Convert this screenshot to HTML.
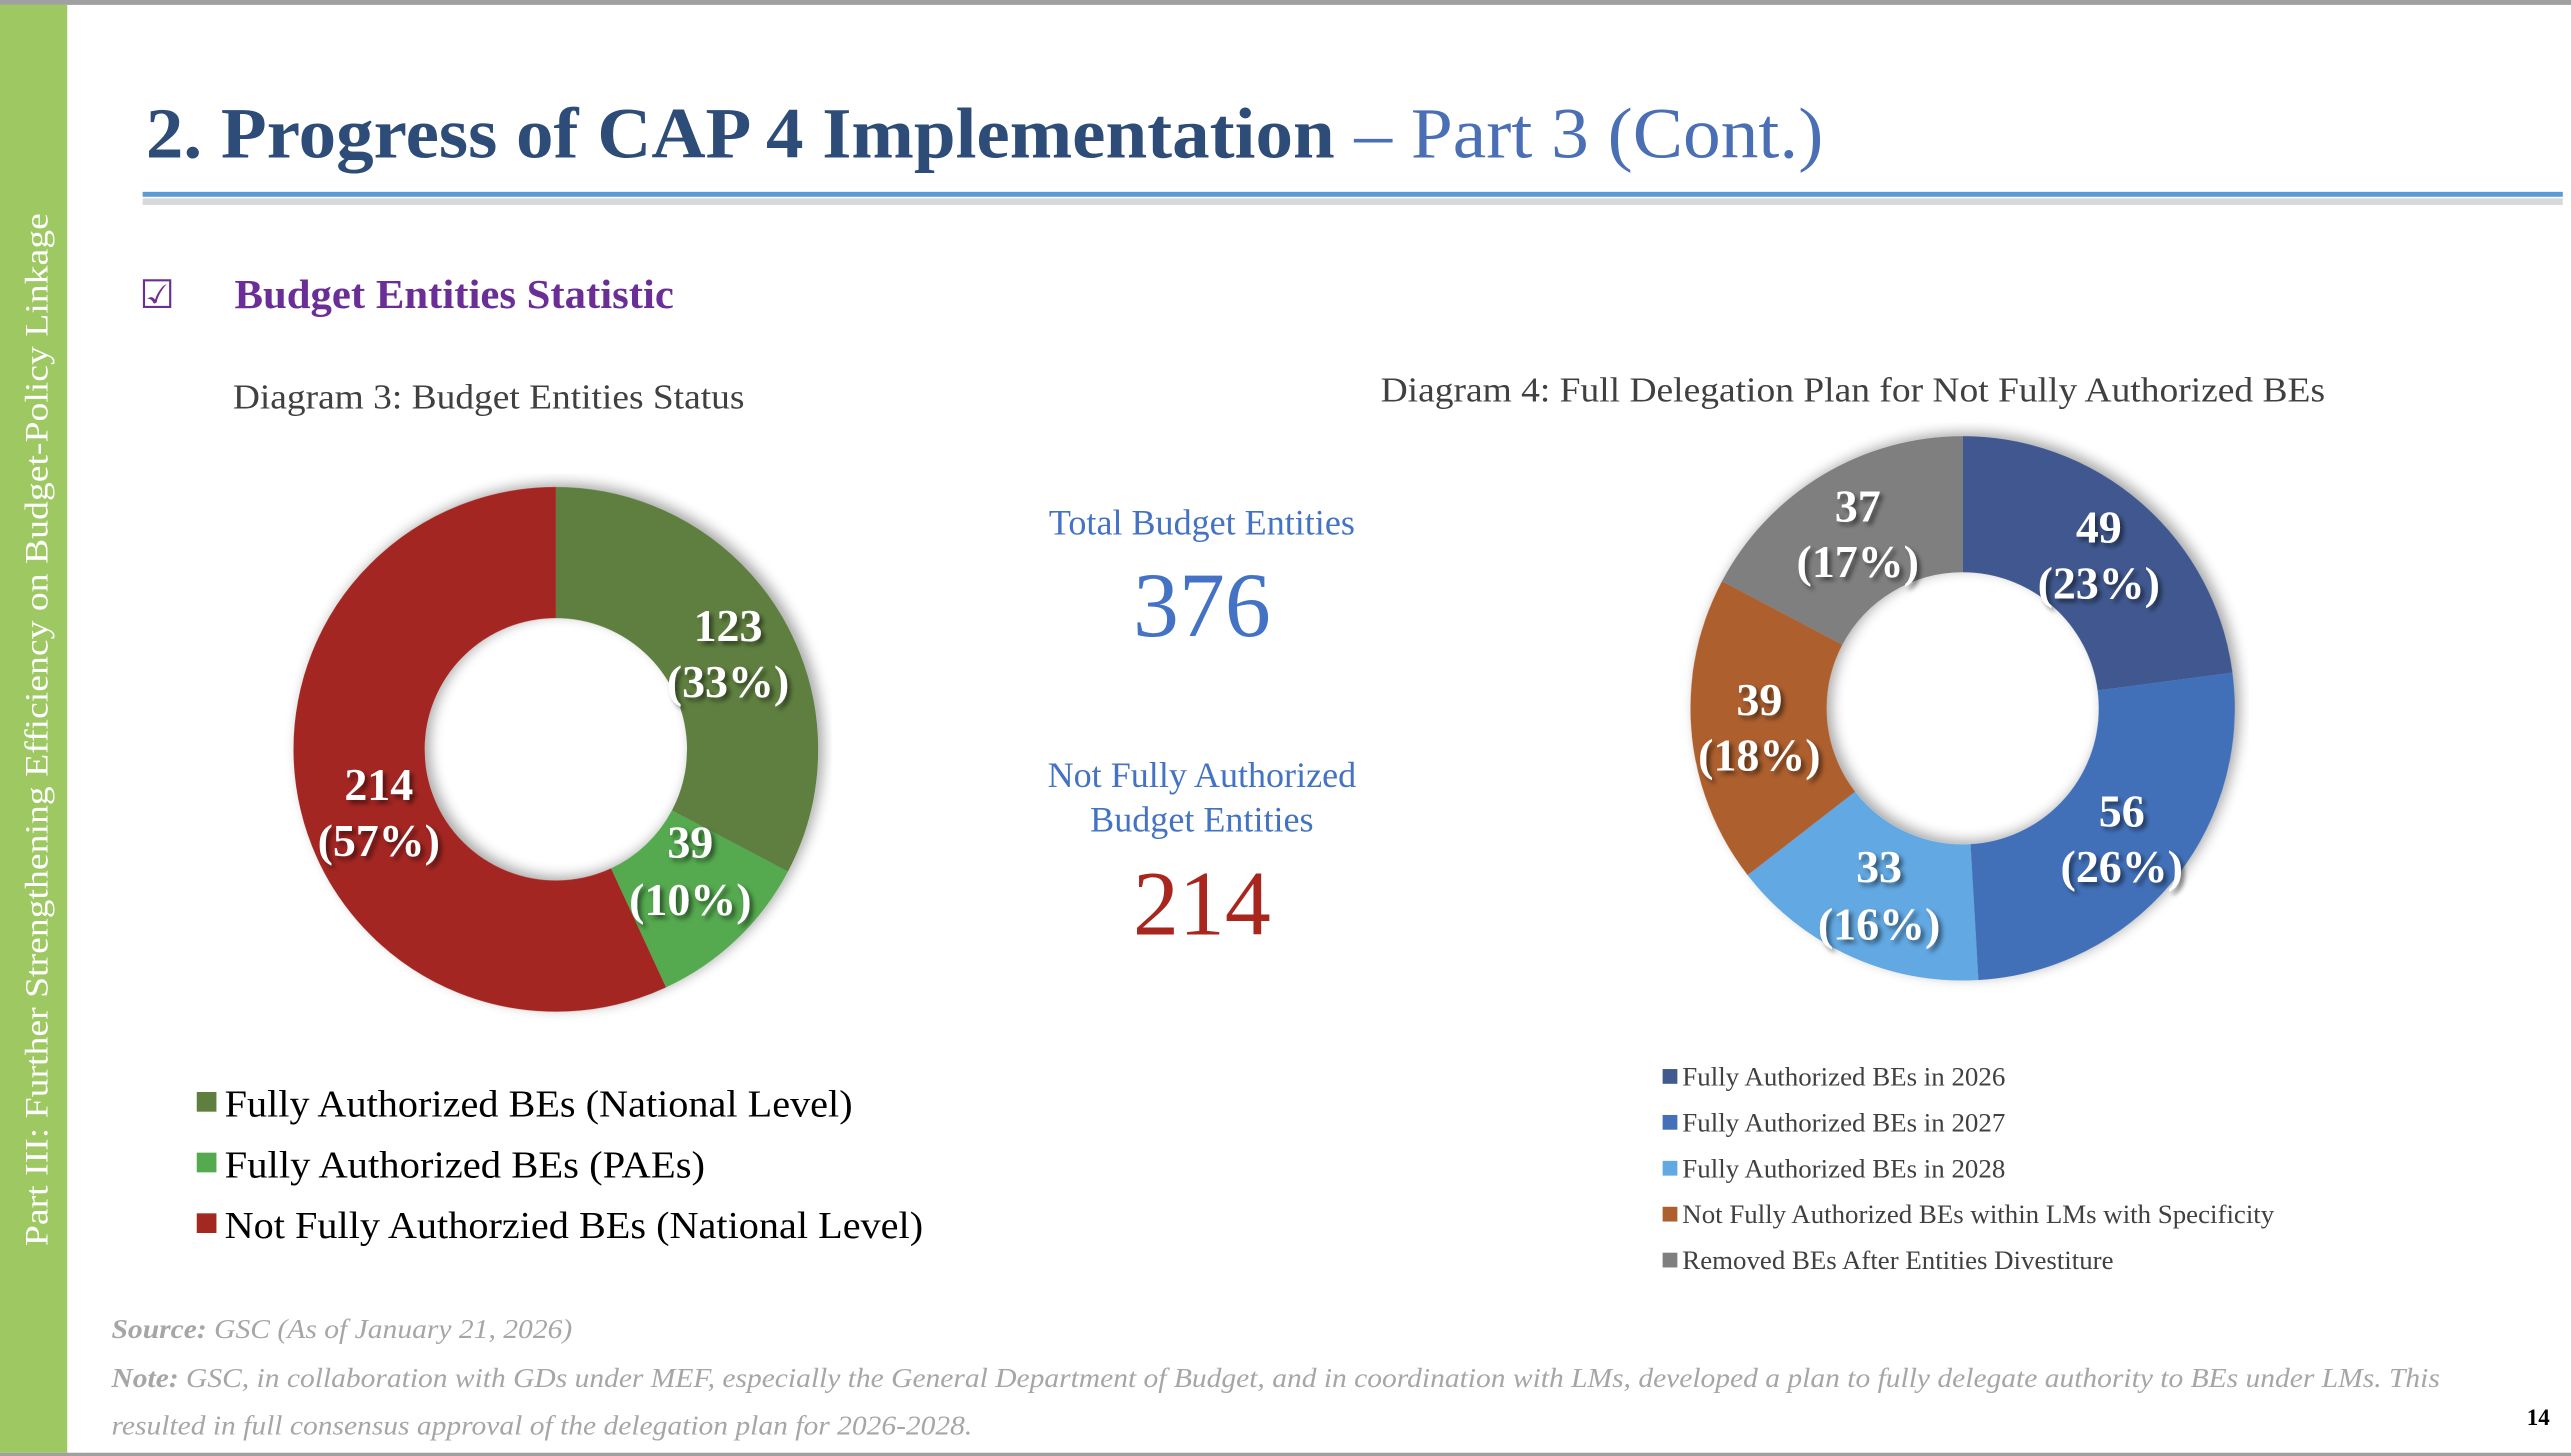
<!DOCTYPE html>
<html><head><meta charset="utf-8"><style>
html,body{margin:0;padding:0;background:#fff;}
svg{display:block;}
text{font-family:"Liberation Serif",serif;}
</style></head><body>
<svg width="2571" height="1456" viewBox="0 0 1568 888" preserveAspectRatio="none" xmlns="http://www.w3.org/2000/svg">
<defs>
<filter id="sh" x="-20%" y="-20%" width="140%" height="140%"><feGaussianBlur in="SourceAlpha" stdDeviation="4"/><feOffset dx="2" dy="3"/><feComponentTransfer><feFuncA type="linear" slope="0.35"/></feComponentTransfer><feMerge><feMergeNode/><feMergeNode in="SourceGraphic"/></feMerge></filter>
<filter id="ts" x="-20%" y="-20%" width="140%" height="140%"><feGaussianBlur in="SourceAlpha" stdDeviation="1.5"/><feOffset dx="2" dy="2"/><feComponentTransfer><feFuncA type="linear" slope="0.5"/></feComponentTransfer><feMerge><feMergeNode/><feMergeNode in="SourceGraphic"/></feMerge></filter>
</defs>
<rect x="0" y="0" width="1568" height="888" fill="#fff"/>
<rect x="0" y="0" width="1568" height="3" fill="#a0a0a0"/>
<rect x="0" y="886" width="1568" height="2" fill="#a0a0a0"/>
<rect x="0" y="3" width="41" height="883" fill="#9DC862"/>
<text transform="translate(29,445) rotate(-90)" text-anchor="middle" font-size="20" fill="#fff" textLength="630" lengthAdjust="spacingAndGlyphs">Part III: Further Strengthening Efficiency on Budget-Policy Linkage</text>

<text x="89" y="96" font-size="44" font-weight="bold" fill="#2E4C78" textLength="725" lengthAdjust="spacingAndGlyphs">2. Progress of CAP 4 Implementation</text>
<text x="826" y="96" font-size="44" fill="#4A6FB5" textLength="286" lengthAdjust="spacingAndGlyphs">– Part 3 (Cont.)</text>
<rect x="87" y="121" width="1476" height="4" fill="#d8d8d8"/>
<rect x="87" y="117" width="1476" height="3" fill="#5B9BD5"/>

<text x="85" y="188" font-size="24" fill="#6A2E96">☑</text>
<text x="143" y="188" font-size="25" font-weight="bold" fill="#6A2E96" textLength="268" lengthAdjust="spacingAndGlyphs">Budget Entities Statistic</text>

<text x="142" y="249" font-size="21" fill="#404040" textLength="312" lengthAdjust="spacingAndGlyphs">Diagram 3: Budget Entities Status</text>
<text x="842" y="245" font-size="21" fill="#404040" textLength="576" lengthAdjust="spacingAndGlyphs">Diagram 4: Full Delegation Plan for Not Fully Authorized BEs</text>

<g filter="url(#sh)" transform="rotate(-90 339 457)">
<circle cx="339" cy="457" r="120" fill="none" stroke="#5F7F3F" stroke-width="80" stroke-dasharray="246.6 754" stroke-dashoffset="0"/>
<circle cx="339" cy="457" r="120" fill="none" stroke="#55A94F" stroke-width="80" stroke-dasharray="78.2 754" stroke-dashoffset="-246.6"/>
<circle cx="339" cy="457" r="120" fill="none" stroke="#A32820" stroke-width="80" stroke-dasharray="429.2 754" stroke-dashoffset="-324.8"/>
</g>
<g font-size="28" font-weight="bold" fill="#fff" text-anchor="middle" filter="url(#ts)">
<text x="444" y="391">123</text><text x="444" y="425">(33%)</text>
<text x="421" y="523">39</text><text x="421" y="558">(10%)</text>
<text x="231" y="488">214</text><text x="231" y="522">(57%)</text>
</g>

<g text-anchor="middle">
<text x="733" y="326" font-size="22" fill="#4472C4">Total Budget Entities</text>
<text x="733" y="388" font-size="56" fill="#4472C4">376</text>
<text x="733" y="480" font-size="22" fill="#4472C4">Not Fully Authorized</text>
<text x="733" y="507" font-size="22" fill="#4472C4">Budget Entities</text>
<text x="733" y="570" font-size="56" fill="#A8261E">214</text>
</g>

<g filter="url(#sh)" transform="rotate(-90 1197 432)">
<circle cx="1197" cy="432" r="124.5" fill="none" stroke="#40598F" stroke-width="83" stroke-dasharray="179.1 783" stroke-dashoffset="0"/>
<circle cx="1197" cy="432" r="124.5" fill="none" stroke="#4370B8" stroke-width="83" stroke-dasharray="204.7 783" stroke-dashoffset="-179.1"/>
<circle cx="1197" cy="432" r="124.5" fill="none" stroke="#62A8E2" stroke-width="83" stroke-dasharray="120.6 783" stroke-dashoffset="-383.8"/>
<circle cx="1197" cy="432" r="124.5" fill="none" stroke="#AD5F2E" stroke-width="83" stroke-dasharray="142.6 783" stroke-dashoffset="-504.4"/>
<circle cx="1197" cy="432" r="124.5" fill="none" stroke="#7F7F7F" stroke-width="83" stroke-dasharray="135.3 783" stroke-dashoffset="-647.0"/>
</g>
<g font-size="28" font-weight="bold" fill="#fff" text-anchor="middle" filter="url(#ts)">
<text x="1133" y="318">37</text><text x="1133" y="352">(17%)</text>
<text x="1280" y="331">49</text><text x="1280" y="365">(23%)</text>
<text x="1073" y="436">39</text><text x="1073" y="470">(18%)</text>
<text x="1294" y="504">56</text><text x="1294" y="538">(26%)</text>
<text x="1146" y="538">33</text><text x="1146" y="573">(16%)</text>
</g>

<rect x="120" y="666" width="12" height="12" fill="#5F7F3F"/>
<text x="137" y="681" font-size="23" fill="#000" textLength="383" lengthAdjust="spacingAndGlyphs">Fully Authorized BEs (National Level)</text>
<rect x="120" y="703" width="12" height="12" fill="#55A94F"/>
<text x="137" y="718" font-size="23" fill="#000" textLength="293" lengthAdjust="spacingAndGlyphs">Fully Authorized BEs (PAEs)</text>
<rect x="120" y="740" width="12" height="12" fill="#A32820"/>
<text x="137" y="755" font-size="23" fill="#000" textLength="426" lengthAdjust="spacingAndGlyphs">Not Fully Authorzied BEs (National Level)</text>

<g font-size="16" fill="#404040">
<rect x="1014" y="652" width="9" height="9" fill="#40598F"/><text x="1026" y="662" textLength="197" lengthAdjust="spacingAndGlyphs">Fully Authorized BEs in 2026</text>
<rect x="1014" y="680" width="9" height="9" fill="#4370B8"/><text x="1026" y="690" textLength="197" lengthAdjust="spacingAndGlyphs">Fully Authorized BEs in 2027</text>
<rect x="1014" y="708" width="9" height="9" fill="#62A8E2"/><text x="1026" y="718" textLength="197" lengthAdjust="spacingAndGlyphs">Fully Authorized BEs in 2028</text>
<rect x="1014" y="736" width="9" height="9" fill="#AD5F2E"/><text x="1026" y="746" textLength="361" lengthAdjust="spacingAndGlyphs">Not Fully Authorized BEs within LMs with Specificity</text>
<rect x="1014" y="764" width="9" height="9" fill="#7F7F7F"/><text x="1026" y="774" textLength="263" lengthAdjust="spacingAndGlyphs">Removed BEs After Entities Divestiture</text>
</g>

<g font-size="17" font-style="italic" fill="#A6A6A6">
<text x="68" y="816" textLength="281" lengthAdjust="spacingAndGlyphs"><tspan font-weight="bold">Source:</tspan> GSC (As of January 21, 2026)</text>
<text x="68" y="846" textLength="1420" lengthAdjust="spacingAndGlyphs"><tspan font-weight="bold">Note:</tspan> GSC, in collaboration with GDs under MEF, especially the General Department of Budget, and in coordination with LMs, developed a plan to fully delegate authority to BEs under LMs. This</text>
<text x="68" y="875" textLength="525" lengthAdjust="spacingAndGlyphs">resulted in full consensus approval of the delegation plan for 2026-2028.</text>
</g>
<text x="1548" y="869" font-size="14" font-weight="bold" fill="#000" text-anchor="middle">14</text>
</svg>
</body></html>
